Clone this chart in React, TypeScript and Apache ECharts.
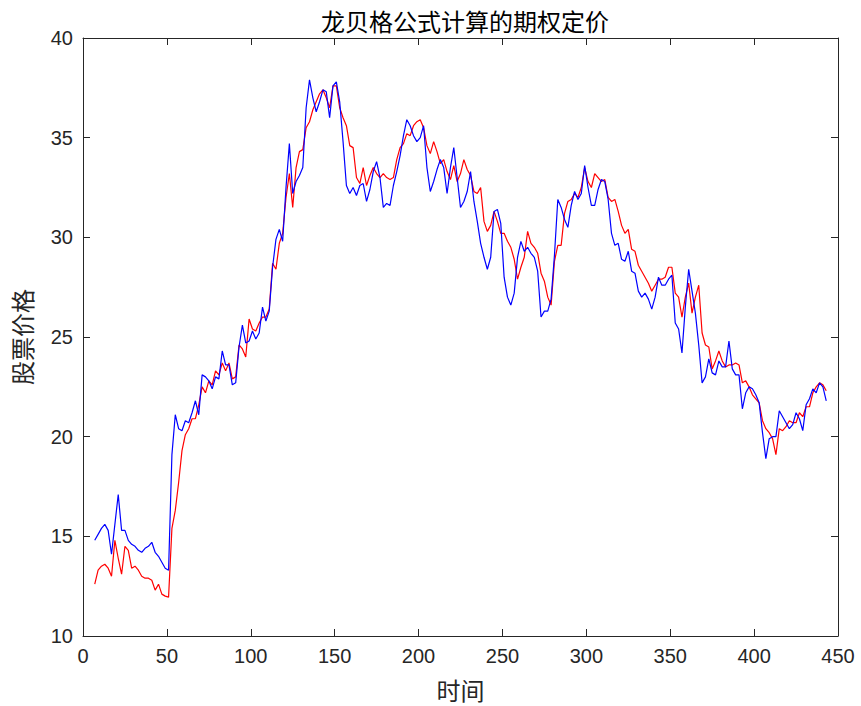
import React, { useEffect, useRef } from "react";
import * as echarts from "echarts";

// 时间: from 7 to 443, step 2 (219 samples)
const timeStart = 7;
const timeStep = 2;

// Red series (股票价格, 龙贝格公式计算)
const redValues = [
  12.6, 13.3, 13.5, 13.6, 13.4, 13.0, 14.8, 13.9, 13.1, 14.5,
  14.3, 13.4, 13.5, 13.3, 13.0, 12.9, 12.9, 12.8, 12.3, 12.6,
  12.1, 12.0, 11.95, 15.4, 16.3, 17.7, 19.3, 20.1, 20.4, 20.9,
  20.9, 21.6, 22.5, 22.2, 22.8, 22.6, 23.3, 23.1, 23.7, 23.3,
  23.7, 22.9, 23.0, 24.6, 24.4, 24.0, 25.9, 25.4, 25.3, 25.7,
  26.0, 26.0, 26.4, 28.7, 28.4, 29.7, 30.2, 32.0, 33.2, 31.5,
  33.5, 34.3, 34.4, 35.5, 35.8, 36.4, 36.8, 37.2, 37.4, 37.0,
  36.5, 37.6, 37.6, 36.5, 36.0, 35.6, 34.6, 34.5, 33.0, 32.7,
  33.5, 32.6, 33.1, 33.5, 33.2, 33.0, 33.2, 33.0, 32.9, 33.0,
  33.9, 34.5, 34.7, 35.2, 35.1, 35.6, 35.8, 35.9, 35.5, 34.6,
  34.2, 34.8, 34.3, 33.7, 33.9, 33.3, 32.9, 33.6, 32.8, 33.2,
  33.9, 33.4, 33.1, 32.3, 32.2, 32.5, 30.8, 30.3, 30.6, 31.3,
  30.8, 30.2, 30.2, 29.8, 29.5, 28.9, 27.9, 28.5, 29.0, 30.3,
  29.7, 29.5, 29.2, 28.2, 27.8, 27.0, 26.6, 28.8, 29.6, 29.6,
  31.2, 31.8, 31.9, 32.2, 32.0, 32.5, 33.5, 32.8, 32.5, 33.2,
  33.0, 32.8, 32.9, 32.0, 31.8, 31.9, 31.3, 30.6, 30.2, 30.4,
  29.4, 29.3, 28.6, 28.3, 28.0, 27.7, 27.3, 27.6, 27.9, 27.9,
  28.0, 28.5, 28.5, 27.2, 27.0, 26.0, 27.0, 27.7, 26.2, 27.0,
  27.6, 25.2, 24.6, 24.5, 23.4, 23.8, 24.3, 23.8, 23.5, 23.6,
  23.6, 23.7, 23.6, 22.7, 22.8, 22.5, 22.1, 21.9, 21.7, 20.8,
  20.4, 20.2, 19.9, 19.1, 20.4, 20.3, 20.5, 20.8, 20.7, 20.7,
  21.2, 21.0, 21.5, 21.5, 22.2, 22.5, 22.7, 22.6, 22.3,
];

// Blue series (股票价格, 实际)
const blueValues = [
  14.8, 15.1, 15.4, 15.6, 15.3, 14.1, 15.6, 17.1, 15.3, 15.3,
  14.8, 14.6, 14.5, 14.3, 14.2, 14.4, 14.5, 14.7, 14.2, 14.0,
  13.7, 13.4, 13.3, 19.1, 21.1, 20.4, 20.3, 20.8, 20.7, 21.2,
  21.8, 21.1, 23.1, 23.0, 22.8, 22.4, 23.0, 22.9, 24.3, 23.6,
  23.6, 22.6, 22.7, 24.5, 25.6, 24.7, 24.8, 25.3, 24.9, 25.2,
  26.5, 25.8, 26.3, 28.5, 29.9, 30.4, 29.8, 32.5, 34.7, 32.2,
  32.8, 33.1, 33.5, 36.5, 37.9, 37.0, 36.3, 36.8, 37.4, 37.3,
  36.0, 37.6, 37.8, 36.8, 34.8, 32.6, 32.2, 32.5, 32.1, 32.6,
  32.7, 31.8, 32.4, 33.3, 33.8, 33.0, 31.5, 31.7, 31.6, 32.6,
  33.3, 34.1, 35.1, 35.9, 35.6, 35.1, 34.8, 35.0, 35.6, 33.5,
  32.3, 32.8, 33.4, 33.9, 33.5, 32.2, 33.5, 34.5, 33.0, 31.5,
  31.8, 32.3, 33.3, 31.8, 30.8, 29.7, 29.0, 28.4, 29.0, 31.3,
  31.4, 30.7, 28.0, 27.0, 26.6, 27.2, 29.0, 29.8, 29.3, 29.5,
  29.2, 29.0, 28.3, 26.0, 26.3, 26.3, 26.9, 29.1, 31.9, 31.5,
  30.9, 30.5, 31.6, 32.3, 31.9, 32.2, 33.6, 32.5, 31.6, 31.6,
  32.4, 32.9, 32.8, 31.9, 30.2, 29.6, 29.7, 28.9, 28.8, 29.3,
  28.3, 28.2, 27.3, 27.0, 27.2, 26.9, 26.4, 27.0, 28.0, 27.6,
  27.6, 27.9, 28.1, 25.7, 25.4, 24.2, 26.5, 28.4, 27.3, 26.2,
  24.6, 22.7, 23.0, 23.9, 23.2, 23.1, 23.8, 23.5, 23.5, 24.8,
  23.4, 23.1, 23.1, 21.4, 22.2, 22.5, 22.4, 22.1, 21.7, 20.2,
  18.9, 19.9, 20.0, 20.0, 21.3, 21.0, 20.7, 20.4, 20.6, 21.2,
  20.9, 20.3, 21.6, 21.9, 22.4, 22.2, 22.7, 22.5, 21.8,
];

const xTicks = { min: 0, max: 450, interval: 50 };
const yTicks = { min: 10, max: 40, interval: 5 };

const titleText = "龙贝格公式计算的期权定价";
const xName = "时间";
const yName = "股票价格";

const axisColor = "#262626";
const cjkFont = "'Noto Sans CJK SC', sans-serif";
const numFont = "'Liberation Sans', Arial, sans-serif";

export default function App() {
  const ref = useRef<HTMLDivElement>(null);

  useEffect(() => {
    if (!ref.current) return;
    const chart = echarts.init(ref.current, null, { renderer: "svg" });
    const time = redValues.map((_, i) => timeStart + i * timeStep);
    const redData = time.map((t, i) => [t, redValues[i]]);
    const blueData = time.map((t, i) => [t, blueValues[i]]);

    const tickStyle = { inside: true, length: 7, lineStyle: { color: axisColor, width: 1 } };
    const lineStyle = { show: true, onZero: false, lineStyle: { color: axisColor, width: 1 } };

    chart.setOption({
      animation: false,
      backgroundColor: "#ffffff",
      title: {
        text: titleText,
        left: 460,
        top: 3,
        textAlign: "center",
        textStyle: { fontSize: 24, fontWeight: "normal", color: "#000", fontFamily: cjkFont },
      },
      grid: { left: 83, right: 23, top: 38, bottom: 70, containLabel: false },
      xAxis: [
        {
          type: "value",
          position: "bottom",
          ...xTicks,
          axisLine: lineStyle,
          axisTick: tickStyle,
          axisLabel: { fontSize: 20, color: axisColor, margin: 10, fontFamily: numFont },
          splitLine: { show: false },
          name: xName,
          nameLocation: "middle",
          nameGap: 41,
          nameTextStyle: { fontSize: 24, color: axisColor, fontFamily: cjkFont },
        },
        {
          type: "value",
          position: "top",
          ...xTicks,
          axisLine: lineStyle,
          axisTick: tickStyle,
          axisLabel: { show: false },
          splitLine: { show: false },
        },
      ],
      yAxis: [
        {
          type: "value",
          position: "left",
          ...yTicks,
          axisLine: lineStyle,
          axisTick: tickStyle,
          axisLabel: { fontSize: 20, color: axisColor, margin: 10, fontFamily: numFont },
          splitLine: { show: false },
          name: yName,
          nameLocation: "middle",
          nameGap: 50,
          nameTextStyle: { fontSize: 24, color: axisColor, fontFamily: cjkFont },
        },
        {
          type: "value",
          position: "right",
          ...yTicks,
          axisLine: lineStyle,
          axisTick: tickStyle,
          axisLabel: { show: false },
          splitLine: { show: false },
        },
      ],
      series: [
        {
          type: "line",
          data: redData,
          showSymbol: false,
          symbol: "none",
          lineStyle: { color: "#ff0000", width: 1.2 },
          xAxisIndex: 0,
          yAxisIndex: 0,
        },
        {
          type: "line",
          data: blueData,
          showSymbol: false,
          symbol: "none",
          lineStyle: { color: "#0000ff", width: 1.2 },
          xAxisIndex: 0,
          yAxisIndex: 0,
        },
      ],
    });
    return () => chart.dispose();
  }, []);

  return (
    <div
      ref={ref}
      style={{ position: "fixed", left: 0, top: 0, width: 861, height: 706, background: "#fff" }}
    />
  );
}
